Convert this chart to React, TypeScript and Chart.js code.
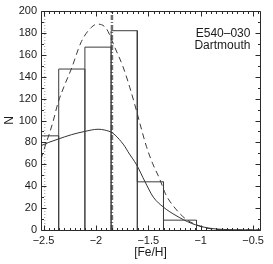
import React, { useEffect, useRef } from "react";
import { Chart, registerables } from "chart.js";

Chart.register(...registerables);

// ---- axis ranges & ticks ----
const xMin = -2.524;
const xMax = -0.434;
const yMin = 0;
const yMax = 200;
const xTickValues = [-2.5, -2, -1.5, -1, -0.5];
const xTickLabels = ["\u22122.5", "\u22122", "\u22121.5", "\u22121", "\u22120.5"];
const yTickValues = [0, 20, 40, 60, 80, 100, 120, 140, 160, 180, 200];
const yTickLabels = ["0", "20", "40", "60", "80", "100", "120", "140", "160", "180", "200"];
const xMinorStep = 0.05;
const yMinorStep = 10;

// ---- histogram ----
const binEdges = [-2.605, -2.355, -2.105, -1.855, -1.605, -1.355, -1.04];
const binCounts = [86, 147, 167, 182, 44, 9];

// ---- solid curve ----
const solidX = [-2.524, -2.45, -2.361, -2.235, -2.107, -1.98, -1.916, -1.837, -1.758, -1.722, -1.694, -1.611, -1.531, -1.452, -1.357, -1.245, -1.086, -0.927, -0.8, -0.656, -0.434];
const solidY = [77, 80, 83, 87, 90, 92, 91.3, 88.3, 80.6, 76, 71.5, 59.4, 44, 30, 21, 13.7, 6, 1.8, 0.6, 0.2, 0];

// ---- dashed curve ----
const dashX = [-2.524, -2.483, -2.441, -2.409, -2.362, -2.3, -2.235, -2.139, -2.044, -1.987, -1.901, -1.821, -1.741, -1.676, -1.613, -1.565, -1.517, -1.46, -1.393, -1.336, -1.245, -1.136, -0.997, -0.9, -0.75, -0.434];
const dashY = [65, 77, 89, 99, 116, 132, 147, 172, 185, 188, 184, 167, 149, 130, 109, 92, 76, 61, 47, 33, 20, 9.6, 3.2, 1, 0.1, 0];

// ---- vertical reference lines ----
const dottedLineX = -2.488;
const meanLineX = -1.847;

// ---- annotation ----
const labelLines = ["E540\u2013030", "Dartmouth"];

const FONT = "'Liberation Sans', Arial, Helvetica, sans-serif";
const DARK = "#2a2a2a";

function buildHist() {
  const pts: { x: number; y: number }[] = [];
  for (let i = 0; i < binCounts.length; i++) {
    pts.push({ x: binEdges[i], y: 0 });
    pts.push({ x: binEdges[i], y: binCounts[i] });
    pts.push({ x: binEdges[i + 1], y: binCounts[i] });
    pts.push({ x: binEdges[i + 1], y: 0 });
  }
  return pts;
}

const framePlugin = {
  id: "framePlugin",
  afterDraw(chart: any) {
    const { ctx, chartArea } = chart;
    const xs = chart.scales.x;
    const ys = chart.scales.y;
    const L = chartArea.left + 0.5;
    const R = chartArea.right + 0.5;
    const T = chartArea.top + 0.5;
    const B = chartArea.bottom + 0.5;
    ctx.save();
    ctx.strokeStyle = DARK;
    ctx.lineWidth = 1;
    ctx.beginPath();
    ctx.rect(L, T, R - L, B - T);
    ctx.stroke();

    const majLen = 5;
    const minLen = 2.5;
    ctx.beginPath();
    const xStart = Math.ceil(xMin / xMinorStep) * xMinorStep;
    for (let v = xStart; v <= xMax + 1e-9; v += xMinorStep) {
      const vv = Math.round(v * 1000) / 1000;
      const isMajor = xTickValues.some((t) => Math.abs(t - vv) < 1e-6);
      const len = isMajor ? majLen : minLen;
      const px = Math.round(xs.getPixelForValue(vv)) + 0.5;
      ctx.moveTo(px, B);
      ctx.lineTo(px, B - len);
      ctx.moveTo(px, T);
      ctx.lineTo(px, T + len);
    }
    for (let v = yMin; v <= yMax + 1e-9; v += yMinorStep) {
      const isMajor = yTickValues.indexOf(v) >= 0;
      const len = isMajor ? majLen : minLen;
      const py = Math.round(ys.getPixelForValue(v)) + 0.5;
      ctx.moveTo(L, py);
      ctx.lineTo(L + len, py);
      ctx.moveTo(R, py);
      ctx.lineTo(R - len, py);
    }
    ctx.stroke();

    ctx.fillStyle = "#1a1a1a";
    ctx.font = `12px ${FONT}`;
    ctx.textAlign = "right";
    ctx.textBaseline = "alphabetic";
    const tx = xs.getPixelForValue(-0.525);
    ctx.fillText(labelLines[0], tx, 36.5);
    ctx.fillText(labelLines[1], tx, 49);
    ctx.restore();
  },
};

export default function App() {
  const canvasRef = useRef<HTMLCanvasElement | null>(null);

  useEffect(() => {
    const canvas = canvasRef.current;
    if (!canvas) return;
    const chart = new Chart(canvas, {
      type: "line",
      data: {
        datasets: [
          {
            label: "hist",
            data: buildHist(),
            borderColor: "#3c3c3c",
            borderWidth: 1,
            pointRadius: 0,
            fill: false,
            tension: 0,
          },
          {
            label: "solid",
            data: solidX.map((x, i) => ({ x, y: solidY[i] })),
            borderColor: "#333",
            borderWidth: 1,
            pointRadius: 0,
            fill: false,
            cubicInterpolationMode: "monotone",
          },
          {
            label: "dashed",
            data: dashX.map((x, i) => ({ x, y: dashY[i] })),
            borderColor: "#3a3a3a",
            borderWidth: 1,
            borderDash: [6, 4],
            pointRadius: 0,
            fill: false,
            cubicInterpolationMode: "monotone",
          },
          {
            label: "dotted",
            data: [
              { x: dottedLineX, y: yMin },
              { x: dottedLineX, y: yMax },
            ],
            borderColor: "#9a9a9a",
            borderWidth: 1,
            borderDash: [1, 2],
            pointRadius: 0,
            fill: false,
          },
          {
            label: "mean",
            data: [
              { x: meanLineX, y: yMin },
              { x: meanLineX, y: yMax },
            ],
            borderColor: "#6e6e6e",
            borderWidth: 2.5,
            borderDash: [5, 2, 1, 2],
            pointRadius: 0,
            fill: false,
          },
        ],
      },
      options: {
        animation: false,
        responsive: false,
        events: [],
        layout: { padding: { left: 0, top: 11, right: 13, bottom: 0 } },
        plugins: { legend: { display: false }, tooltip: { enabled: false } },
        scales: {
          x: {
            type: "linear",
            min: xMin,
            max: xMax,
            grid: { display: false, drawTicks: false },
            border: { display: false },
            ticks: {
              autoSkip: false,
              maxRotation: 0,
              padding: 4,
              color: "#1a1a1a",
              font: { family: FONT, size: 11 },
              callback: (value: any) => {
                const i = xTickValues.findIndex((t) => Math.abs(t - value) < 1e-9);
                return i >= 0 ? xTickLabels[i] : "";
              },
            },
            afterBuildTicks: (s: any) => {
              s.ticks = xTickValues.map((v) => ({ value: v }));
            },
            afterFit: (s: any) => {
              s.height = 34;
            },
            title: {
              display: true,
              text: "[Fe/H]",
              color: "#1a1a1a",
              font: { family: FONT, size: 12 },
              padding: { top: 0, bottom: 4 },
            },
          },
          y: {
            type: "linear",
            min: yMin,
            max: yMax,
            grid: { display: false, drawTicks: false },
            border: { display: false },
            ticks: {
              autoSkip: false,
              padding: 4,
              color: "#1a1a1a",
              font: { family: FONT, size: 11 },
              callback: (value: any) => {
                const i = yTickValues.indexOf(value);
                return i >= 0 ? yTickLabels[i] : "";
              },
            },
            afterBuildTicks: (s: any) => {
              s.ticks = yTickValues.map((v) => ({ value: v }));
            },
            afterFit: (s: any) => {
              s.width = 41;
            },
            title: {
              display: true,
              text: "N",
              color: "#1a1a1a",
              font: { family: FONT, size: 12 },
              padding: { top: 2, bottom: 0 },
            },
          },
        },
      },
      plugins: [framePlugin],
    } as any);
    return () => chart.destroy();
  }, []);

  return (
    <div style={{ position: "fixed", left: 0, top: 0, width: 273, height: 264, background: "#fff" }}>
      <canvas ref={canvasRef} width={273} height={264} style={{ display: "block", width: 273, height: 264 }} />
    </div>
  );
}
